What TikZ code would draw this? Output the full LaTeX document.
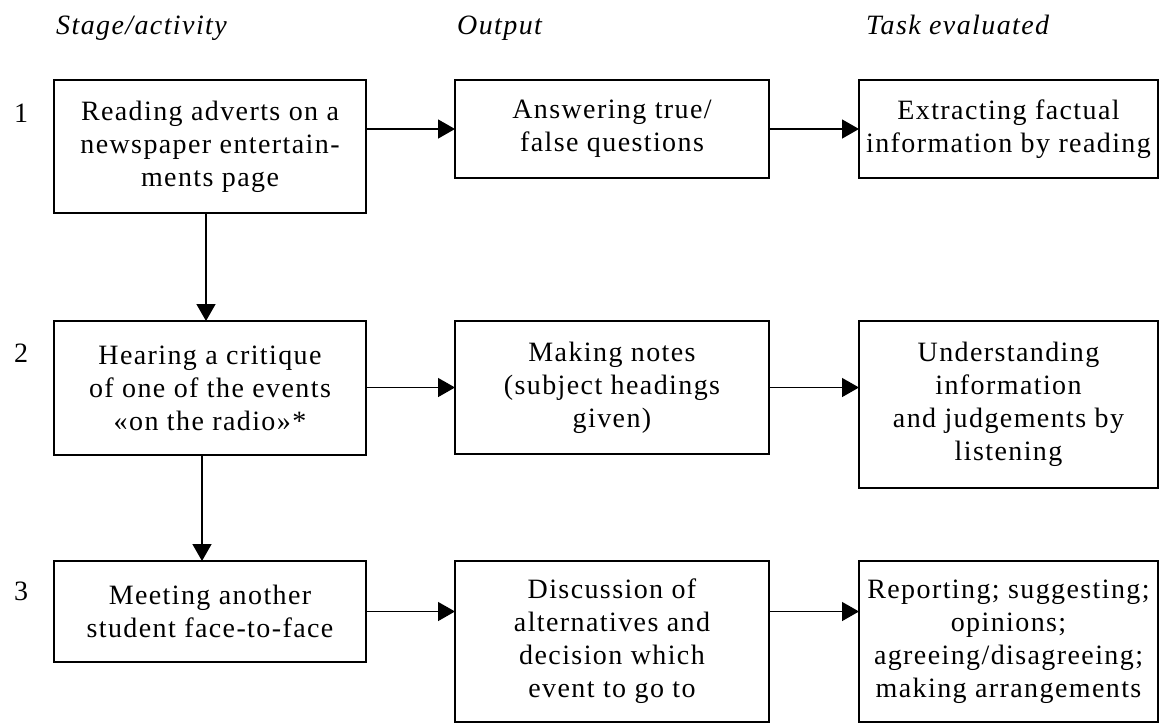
\documentclass[tikz,border=0pt]{standalone}
\usepackage{fontspec}
\setmainfont{Liberation Serif}[LetterSpace=5]
\usetikzlibrary{arrows.meta}
\newcommand{\bodyfnt}{\fontsize{28}{33}\selectfont}
\begin{document}
\begin{tikzpicture}[x=1pt,y=-1pt,
  box/.style={draw, line width=1.5pt, inner sep=0pt, outer sep=0pt, align=center, font=\bodyfnt},
  hdr/.style={anchor=base west, inner sep=0pt, font=\bodyfnt\itshape},
  num/.style={anchor=base west, inner sep=0pt, font=\bodyfnt},
  arr/.style={line width=1.4pt, -{Triangle[length=17pt,width=19pt]}}]
\useasboundingbox (0,0) rectangle (1160,724);
% headers
\node[hdr] (h1) at (56,34) {Stage/activity};
\node[hdr] (h2) at (457,34) {Output};
\node[hdr] (h3) at (866,34) {Task evaluated};
% row numbers
\node[num] (n1) at (14,122) {1};
\node[num] (n2) at (14,362) {2};
\node[num] (n3) at (14,600) {3};
% boxes
\node[box, minimum width=312pt, minimum height=133pt] (A) at (210,146.5) {Reading adverts on a\\newspaper entertain-\\ments page};
\node[box, minimum width=314pt, minimum height=98pt] (B) at (612,129) {Answering true/\\false questions};
\node[box, minimum width=299pt, minimum height=98pt] (C) at (1008.5,129) {Extracting factual\\information by reading};
\node[box, minimum width=312pt, minimum height=134pt] (D) at (210,388) {Hearing a critique\\of one of the events\\«on the radio»*};
\node[box, minimum width=314pt, minimum height=133pt] (E) at (612,387.5) {Making notes\\(subject headings\\given)};
\node[box, minimum width=299pt, minimum height=167pt] (F) at (1008.5,404.5) {Understanding\\information\\and judgements by\\listening};
\node[box, minimum width=312pt, minimum height=101pt] (G) at (210,611.5) {Meeting another\\student face-to-face};
\node[box, minimum width=314pt, minimum height=161pt] (H) at (612,641.5) {Discussion of\\alternatives and\\decision which\\event to go to};
\node[box, minimum width=299pt, minimum height=161pt] (I) at (1008.5,641.5) {Reporting; suggesting;\\opinions;\\agreeing/disagreeing;\\making arrangements};
% connectors
\draw[arr] (A.east |- B.west) -- (B.west);
\draw[arr] (B.east) -- (C.west);
\draw[arr] ([xshift=-4pt]A.south) -- ([xshift=-4pt]A.south |- D.north);
\draw[arr] (D.east |- E.west) -- (E.west);
\draw[arr] (E.east) -- (E.east -| F.west);
\draw[arr] ([xshift=-8pt]D.south) -- ([xshift=-8pt]D.south |- G.north);
\draw[arr] (G.east) -- (G.east -| H.west);
\draw[arr] (H.east |- G.east) -- (G.east -| I.west);
\end{tikzpicture}
\end{document}
